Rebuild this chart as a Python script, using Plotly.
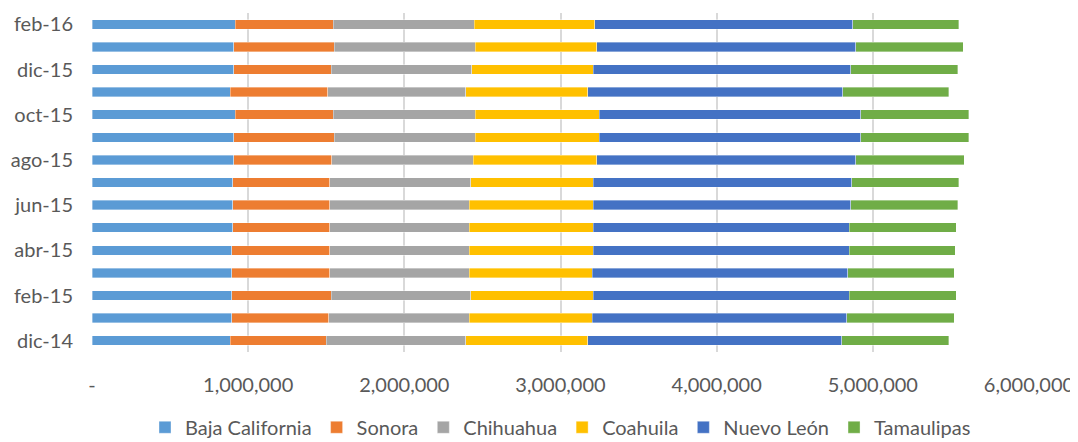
import plotly.graph_objects as go

months = ["dic-14", "ene-15", "feb-15", "mar-15", "abr-15", "may-15", "jun-15",
          "jul-15", "ago-15", "sep-15", "oct-15", "nov-15", "dic-15", "ene-16", "feb-16"]

baja_california = [885800, 894300, 894300, 894300, 894300, 900700, 900700,
                   900700, 907100, 907100, 915700, 885800, 907100, 907100, 915700]
sonora = [612600, 621200, 636100, 627600, 627600, 621200, 621200,
          621200, 627600, 642500, 627500, 623300, 623300, 642500, 627500]
chihuahua = [896400, 900700, 894300, 894300, 894300, 894300, 894300,
             902800, 905000, 902900, 909300, 885700, 900700, 902900, 902900]
coahuila = [779100, 785500, 785500, 785500, 794000, 794000, 794000,
            785500, 791800, 794000, 794000, 779100, 779100, 779000, 772600]
nuevo_leon = [1626400, 1632800, 1639200, 1639200, 1639200, 1639200, 1647800,
              1654200, 1660600, 1675500, 1675500, 1632800, 1647800, 1660600, 1652100]
tamaulipas = [685200, 687300, 685200, 680900, 678800, 685200, 685100,
              685100, 693700, 693700, 693700, 678800, 685100, 687300, 678700]

series = [
    ("Baja California", baja_california, "#5B9BD5"),
    ("Sonora", sonora, "#ED7D31"),
    ("Chihuahua", chihuahua, "#A5A5A5"),
    ("Coahuila", coahuila, "#FFC000"),
    ("Nuevo León", nuevo_leon, "#4472C4"),
    ("Tamaulipas", tamaulipas, "#70AD47"),
]

x_tickvals = [0, 1000000, 2000000, 3000000, 4000000, 5000000, 6000000]
x_ticktext = ["-", "1,000,000", "2,000,000", "3,000,000", "4,000,000", "5,000,000", "6,000,000"]
y_ticklabels = months[::2]

fig = go.Figure()
for name, vals, color in series:
    fig.add_trace(go.Bar(
        y=months, x=vals, name=name, orientation="h",
        marker=dict(color=color, line=dict(width=0.6, color="rgba(255,255,255,0.6)")),
    ))

font_family = "Lato, Roboto, Arial"
fig.update_layout(
    barmode="stack",
    bargap=0.58,
    width=1070, height=434,
    margin=dict(l=84, r=49, t=5, b=90, autoexpand=False),
    plot_bgcolor="white", paper_bgcolor="white",
    font=dict(family=font_family, color="#595959", size=20),
    xaxis=dict(range=[0, 6000000], tickvals=x_tickvals, ticktext=x_ticktext,
               showgrid=True, gridcolor="#D9D9D9", gridwidth=1.5,
               zeroline=False, showline=False, ticks="", automargin=False,
               tickfont=dict(size=20), ticklabelstandoff=19),
    yaxis=dict(categoryorder="array", categoryarray=months,
               tickmode="array", tickvals=y_ticklabels, ticktext=y_ticklabels,
               showgrid=False, zeroline=False, showline=False, ticks="", automargin=False,
               tickfont=dict(size=20), ticklabelstandoff=18,
               range=[-0.5, len(months) - 0.5]),
    legend=dict(orientation="h", x=0.5, xanchor="center", y=-0.222, yanchor="middle",
                font=dict(size=20), traceorder="normal", itemwidth=30),
    showlegend=True,
)

fig.write_html("out.html")
